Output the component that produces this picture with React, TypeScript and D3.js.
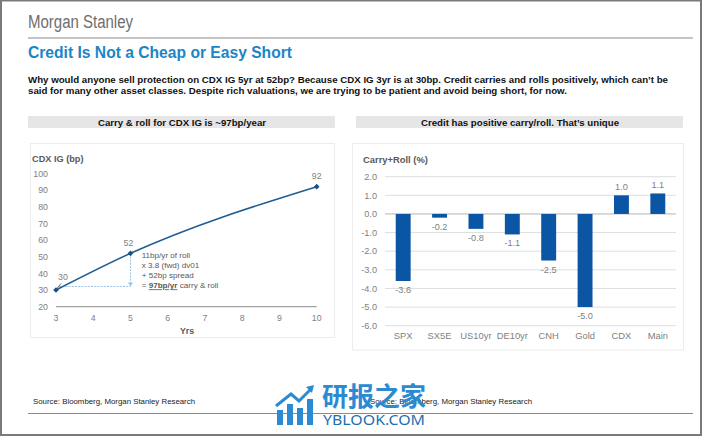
import React from "react";
import * as d3 from "d3";

const curveYears = [3, 5, 10];
const curveSpreads = [30, 52, 92];
const leftXTicks = [3, 4, 5, 6, 7, 8, 9, 10];
const leftYTicks = [20, 30, 40, 50, 60, 70, 80, 90, 100];

const assets = ["SPX", "SX5E", "US10yr", "DE10yr", "CNH", "Gold", "CDX", "Main"];
const carryRoll = [-3.6, -0.2, -0.8, -1.1, -2.5, -5.0, 1.0, 1.1];
const rightYTicks = [2, 1, 0, -1, -2, -3, -4, -5, -6];

const annotationLines = ["11bp/yr of roll", "x 3.8 (fwd) dv01", "+ 52bp spread"];

const FONT = "'Liberation Sans', Arial, Helvetica, sans-serif";

export default function App() {
  const W = 702, H = 436;

  // Left chart scales
  const xL = d3.scaleLinear().domain([3, 10]).range([56, 316.7]);
  const yL = d3.scaleLinear().domain([20, 100]).range([306.7, 173.3]);
  const pts = curveYears.map((x, i) => [xL(x), yL(curveSpreads[i])] as [number, number]);
  const linePath = d3.line().curve(d3.curveMonotoneX)(pts) || "";

  // Right chart scales
  const xR = d3.scaleBand<string>().domain(assets).range([385, 676]).paddingInner(0.59).paddingOuter(0.295);
  const yR = d3.scaleLinear().domain([-6, 2]).range([325.7, 176.7]);

  const gray = "#7f7f7f";
  const dark = "#595959";
  const barColor = "#0b55a5";
  const lineColor = "#1f5e93";
  const dot = "#9dc3e6";

  const diamond = (cx: number, cy: number, r = 2.8) =>
    `M${cx},${cy - r}L${cx + r},${cy}L${cx},${cy + r}L${cx - r},${cy}Z`;

  const p5 = pts[1];
  const p3 = pts[0];

  return (
    <svg
      width={W}
      height={H}
      viewBox={`0 0 ${W} ${H}`}
      style={{ position: "fixed", left: 0, top: 0, background: "#fff" }}
      fontFamily={FONT}
    >
      <rect x={0} y={0} width={W} height={H} fill="#fff" />
      {/* outer frame */}
      <rect x={1} y={0.5} width={W - 2} height={H - 1.5} fill="none" stroke="#7a7a7a" strokeWidth={2} />

      {/* Header */}
      <text x={28} y={28} fontSize={18} fill="#6e6e6e" textLength={105} lengthAdjust="spacingAndGlyphs">
        Morgan Stanley
      </text>
      <line x1={28} x2={693} y1={38} y2={38} stroke="#c4c4c4" strokeWidth={2} />
      <text x={28} y={58} fontSize={15.6} fontWeight="bold" fill="#1b86c6" textLength={264} lengthAdjust="spacingAndGlyphs">
        Credit Is Not a Cheap or Easy Short
      </text>
      <text x={28} y={83.3} fontSize={8.8} fontWeight="bold" fill="#111" textLength={640} lengthAdjust="spacingAndGlyphs">
        Why would anyone sell protection on CDX IG 5yr at 52bp? Because CDX IG 3yr is at 30bp. Credit carries and rolls positively, which can’t be
      </text>
      <text x={28} y={94.3} fontSize={8.8} fontWeight="bold" fill="#111" textLength={539} lengthAdjust="spacingAndGlyphs">
        said for many other asset classes. Despite rich valuations, we are trying to be patient and avoid being short, for now.
      </text>

      {/* Panel headers */}
      <rect x={28} y={116} width={307} height={12} fill="#e6e6e6" />
      <text x={182} y={125.5} fontSize={9} fontWeight="bold" fill="#111" textAnchor="middle" textLength={168} lengthAdjust="spacingAndGlyphs">
        Carry &amp; roll for CDX IG is ~97bp/year
      </text>
      <rect x={356} y={116} width={327} height={12} fill="#e6e6e6" />
      <text x={520} y={125.5} fontSize={9} fontWeight="bold" fill="#111" textAnchor="middle" textLength={198} lengthAdjust="spacingAndGlyphs">
        Credit has positive carry/roll. That’s unique
      </text>

      {/* Chart frames (faint) */}
      <rect x={30.5} y={143.5} width={304} height={194} fill="none" stroke="#ececec" />
      <rect x={352.5} y={143.5} width={331} height={206.5} fill="none" stroke="#ececec" />

      {/* Left chart */}
      <text x={32} y={162} fontSize={9.2} fontWeight="bold" fill={dark}>CDX IG (bp)</text>
      {leftYTicks.map((t) => (
        <text key={t} x={48} y={yL(t) + 3.2} fontSize={8.8} fill={gray} textAnchor="end">{t}</text>
      ))}
      <line x1={xL(3)} x2={xL(10)} y1={yL(20)} y2={yL(20)} stroke="#8c8c8c" strokeWidth={1} />
      {leftXTicks.map((t) => (
        <text key={t} x={xL(t)} y={321} fontSize={8.8} fill={gray} textAnchor="middle">{t}</text>
      ))}
      <text x={187} y={334} fontSize={8.8} fontWeight="bold" fill={dark} textAnchor="middle">Yrs</text>

      {/* dotted helper lines */}
      <line x1={p5[0]} x2={p5[0]} y1={p5[1] + 3} y2={284} stroke={dot} strokeWidth={1} strokeDasharray="2 1.2" />
      <path d={`M${p5[0] - 2.5},${282.5}L${p5[0] + 2.5},${282.5}L${p5[0]},${286.5}Z`} fill={dot} />
      <line x1={p3[0] + 3} x2={p5[0]} y1={286.5} y2={286.5} stroke={dot} strokeWidth={1} strokeDasharray="2 1.2" />

      <path d={linePath} fill="none" stroke={lineColor} strokeWidth={1.6} />
      {pts.map((p, i) => (
        <path key={i} d={diamond(p[0], p[1])} fill="#1a4f82" />
      ))}
      {/* point labels */}
      <text x={63} y={280} fontSize={8.8} fill={gray} textAnchor="middle">{curveSpreads[0]}</text>
      <line x1={61} y1={283.5} x2={57} y2={288.5} stroke="#404040" strokeWidth={0.8} />
      <text x={pts[1][0] - 2} y={246} fontSize={8.8} fill={gray} textAnchor="middle">{curveSpreads[1]}</text>
      <text x={pts[2][0]} y={178.5} fontSize={8.8} fill={gray} textAnchor="middle">{curveSpreads[2]}</text>

      {annotationLines.map((l, i) => (
        <text key={l} x={141.7} y={258.3 + i * 10} fontSize={8.1} fill={dark}>{l}</text>
      ))}
      <text x={141.7} y={288.3} fontSize={8.1} fill={dark}>
        {"= "}
        <tspan fontWeight="bold" textDecoration="underline">97bp/yr</tspan>
        {" carry & roll"}
      </text>

      {/* Right chart */}
      <text x={363} y={163} fontSize={9.4} fontWeight="bold" fill={dark}>Carry+Roll (%)</text>
      {rightYTicks.map((t) => (
        <g key={t}>
          <line x1={385} x2={676} y1={yR(t)} y2={yR(t)} stroke={t === 0 ? "#b5b5b5" : "#dedede"} strokeWidth={1} />
          <text x={377} y={yR(t) + 3.2} fontSize={9.2} fill={gray} textAnchor="end">{t.toFixed(1)}</text>
        </g>
      ))}
      {assets.map((a, i) => {
        const v = carryRoll[i];
        const x = xR(a) as number;
        const bw = xR.bandwidth();
        const y0 = yR(0), y1 = yR(v);
        return (
          <g key={a}>
            <rect x={x} y={Math.min(y0, y1)} width={bw} height={Math.abs(y1 - y0)} fill={barColor} />
            <text
              x={x + bw / 2}
              y={v < 0 ? y1 + 12 : y1 - 5}
              fontSize={9.2}
              fill={gray}
              textAnchor="middle"
            >
              {v.toFixed(1)}
            </text>
            <text x={x + bw / 2} y={339} fontSize={9.4} fill={gray} textAnchor="middle">{a}</text>
          </g>
        );
      })}

      {/* Sources */}
      <text x={33} y={404} fontSize={7.8} fill="#222" textLength={162} lengthAdjust="spacingAndGlyphs">
        Source: Bloomberg, Morgan Stanley Research
      </text>
      <text x={370} y={404} fontSize={7.8} fill="#222" textLength={162} lengthAdjust="spacingAndGlyphs">
        Source: Bloomberg, Morgan Stanley Research
      </text>
      <line x1={28} x2={693} y1={413.5} y2={413.5} stroke="#8a8a8a" strokeWidth={1} />

      {/* Watermark */}
      <g fill="#2b8ad2">
        <rect x={277} y={410} width={6} height={15} />
        <rect x={287} y={404} width={6} height={21} />
        <rect x={297} y={408} width={6} height={17} />
        <rect x={307} y={399} width={6} height={26} />
        <polyline points="276,406 291,394 299,401 311,389" fill="none" stroke="#2b8ad2" strokeWidth={3} />
        <path d="M306,387L314,385L312,393Z" />
        <text x={322} y={406} fontSize={26} fontFamily="'Noto Sans CJK SC', sans-serif" fontWeight="bold" textLength={104} lengthAdjust="spacingAndGlyphs">研报之家</text>
        <text x={323} y={425} fontSize={13.5} fontFamily="'Noto Sans', 'DejaVu Sans', sans-serif" fill="#1f6fb0" textLength={102} lengthAdjust="spacingAndGlyphs">YBLOOK.COM</text>
      </g>
    </svg>
  );
}
